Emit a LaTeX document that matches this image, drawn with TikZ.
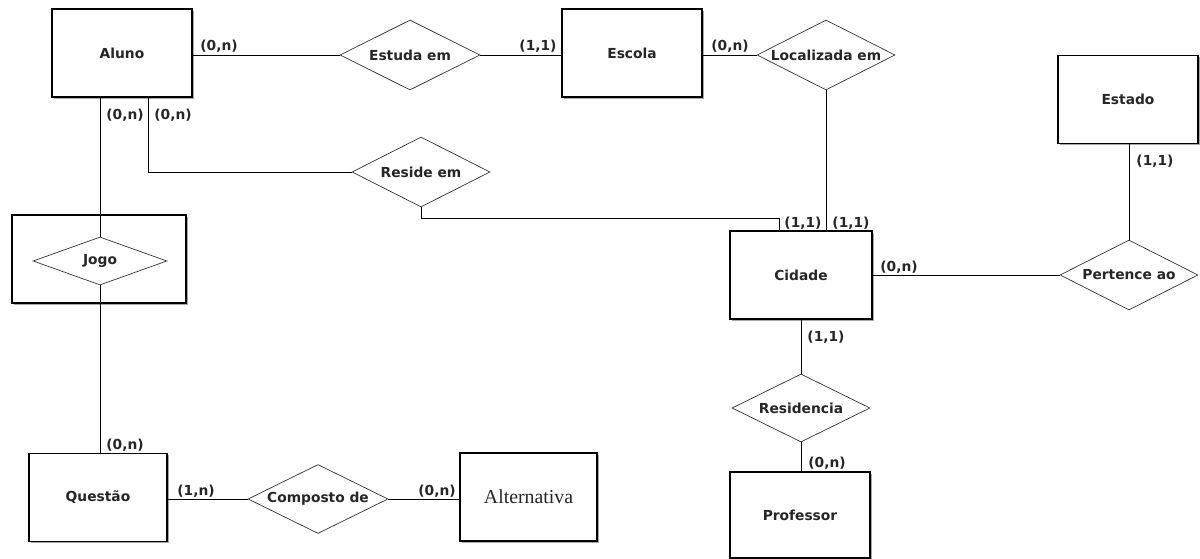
\documentclass[tikz,border=0pt]{standalone}
\usepackage{fontspec}
\setmainfont{DejaVu Sans}
\newfontfamily\altserif{Liberation Serif}
\usetikzlibrary{shapes.geometric,shadows,calc}

\begin{document}
\begin{tikzpicture}[x=1pt,y=-1pt,
  every node/.style={text=black!85, font=\fontsize{13.8}{16}\selectfont\bfseries},
  entity/.style={rectangle, draw=black, line width=1.1pt, fill=white, inner sep=0pt,
    minimum width=140pt, minimum height=88pt,
    drop shadow={shadow xshift=1.6pt, shadow yshift=-1.6pt, fill=black!50, opacity=0.7}},
  rel/.style={diamond, draw=black!80, line width=0.7pt, fill=white, inner sep=0pt,
    minimum width=140pt, minimum height=70pt},
  card/.style={inner sep=0pt},
  link/.style={line width=0.9pt, draw=black}]

\useasboundingbox (0,0) rectangle (1200,559);

% entities
\node[entity] (aluno)   at (122,53)    {Aluno};
\node[entity] (escola)  at (632,53)    {Escola};
\node[entity] (estado)  at (1128,99.5) {Estado};
\node[entity, minimum width=142pt] (cidade) at (801,275) {Cidade};
\node[entity, minimum height=86pt] (professor) at (800,515) {Professor};
\node[entity, minimum width=138pt] (questao) at (98,497.5) {Questão};
\node[entity, minimum width=137pt] (alternativa) at (528.5,497)
  {\altserif\mdseries\fontsize{19.8}{22}\selectfont Alternativa};

% associative entity around Jogo
\node[entity, minimum width=174pt] (jogobox) at (99,259) {};

% relationships
\node[rel, label=center:{Estuda em}] (estuda) at (410,55) {};
\node[rel, minimum width=138pt, label=center:{Localizada em}] (local) at (826,55) {};
\node[rel, minimum width=138pt, label=center:{Reside em}] (reside) at (421,172) {};
\node[rel, minimum width=138pt, label=center:{Pertence ao}] (pertence) at (1129,275) {};
\node[rel, minimum width=138pt, minimum height=68pt, label=center:{Residencia}] (residencia) at (801,408) {};
\node[rel, minimum height=69pt, label=center:{Composto de}] (composto) at (318,499) {};
\node[rel, minimum width=134pt, minimum height=48pt, label=center:{Jogo}] (jogo) at (100,261) {};

% helper points on the Aluno and Cidade sides
\coordinate (alunoR) at ($(aluno.south)+(26,0)$);
\coordinate (cidadeR) at ($(cidade.north)+(-22,-12)$);

% connectors
\draw[link] (aluno.east |- estuda.west) -- (estuda.west);
\draw[link] (estuda.east) -- (escola.west |- estuda.east);
\draw[link] (escola.east |- local.west) -- (local.west);
\draw[link] (local.south) -- (local.south |- cidade.north);
\draw[link] (aluno.south -| jogo.north) -- (jogo.north);
\draw[link] (jogo.south) -- (jogo.south |- questao.north);
\draw[link] (alunoR) |- (reside.west);
\draw[link] (reside.south) |- (cidadeR) -- (cidadeR |- cidade.north);
\draw[link] (cidade.east |- pertence.west) -- (pertence.west);
\draw[link] (estado.south -| pertence.north) -- (pertence.north);
\draw[link] (cidade.south -| residencia.north) -- (residencia.north);
\draw[link] (residencia.south) -- (residencia.south |- professor.north);
\draw[link] (questao.east |- composto.west) -- (composto.west);
\draw[link] (composto.east) -- (alternativa.west |- composto.east);

% cardinalities
\node[card] (c1)  at (219,46)   {(0,n)};
\node[card] (c2)  at (538,46)   {(1,1)};
\node[card] (c3)  at (730,46)   {(0,n)};
\node[card] (c4)  at (125,115)  {(0,n)};
\node[card] (c5)  at (173,115)  {(0,n)};
\node[card] (c6)  at (1155,161) {(1,1)};
\node[card] (c7)  at (803,223)  {(1,1)};
\node[card] (c8)  at (851,223)  {(1,1)};
\node[card] (c9)  at (899,267)  {(0,n)};
\node[card] (c10) at (826,337)  {(1,1)};
\node[card] (c11) at (827,463)  {(0,n)};
\node[card] (c12) at (125,445)  {(0,n)};
\node[card] (c13) at (196,491)  {(1,n)};
\node[card] (c14) at (437,491)  {(0,n)};
\end{tikzpicture}
\end{document}
